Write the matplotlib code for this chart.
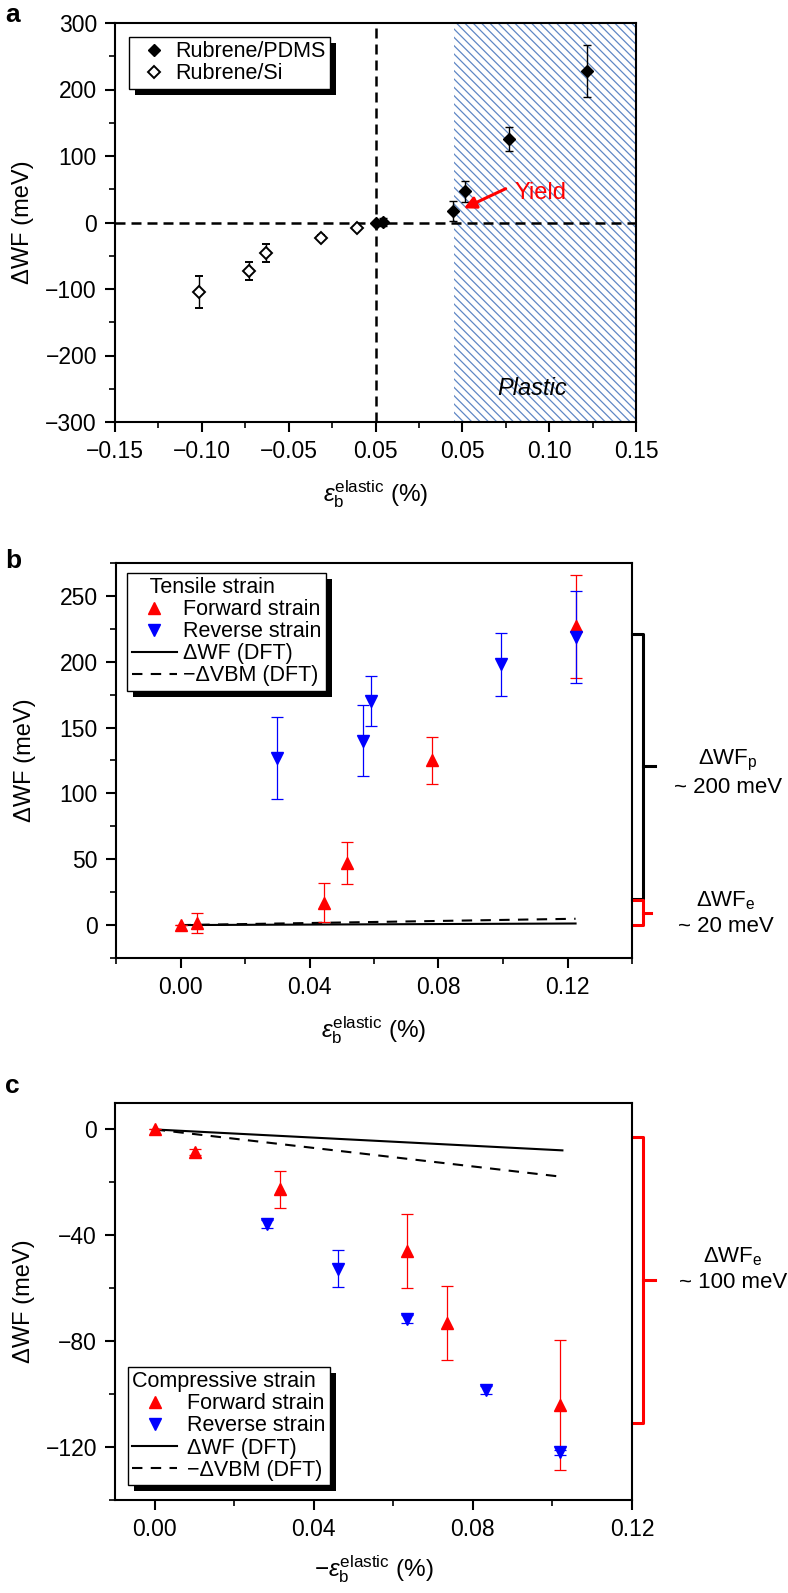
import matplotlib
matplotlib.use('Agg')
import matplotlib.pyplot as plt
from matplotlib.lines import Line2D
from matplotlib.patches import Rectangle
from matplotlib.ticker import MultipleLocator, FixedLocator

plt.rcParams['font.family'] = ['Liberation Sans', 'DejaVu Sans']
plt.rcParams['mathtext.fontset'] = 'custom'
plt.rcParams['mathtext.rm'] = 'Liberation Sans'
plt.rcParams['mathtext.it'] = 'Liberation Sans:italic'
plt.rcParams['mathtext.bf'] = 'Liberation Sans:bold'
plt.rcParams['hatch.linewidth'] = 0.9
plt.rcParams['axes.linewidth'] = 1.5

# --- panel a: rubrene on Si (compressive) and on PDMS (tensile)
si_x = [-0.1017, -0.073, -0.0632, -0.0316, -0.0105]
si_y = [-104, -73, -45.6, -22.6, -8]
si_err = [24, 14, 14, 4, 3]
pdms_x = [0.0, 0.0046, 0.0444, 0.0515, 0.077, 0.122]
pdms_y = [0, 1, 17, 47, 125, 228]
pdms_err = [0, 6, 15, 16, 18, 39]
a_xticks = [-0.15, -0.10, -0.05, 0.0, 0.05, 0.10, 0.15]
a_xticklabels = ['\u22120.15', '\u22120.10', '\u22120.05', '0.05', '0.05', '0.10', '0.15']
plastic_start = 0.045

# --- panel b: tensile strain
b_fwd_x = [0.0, 0.005, 0.0444, 0.0515, 0.078, 0.1225]
b_fwd_y = [0, 1.5, 17, 47, 125, 227]
b_fwd_err = [0, 7.5, 15, 16, 18, 39]
b_rev_x = [0.030, 0.0566, 0.059, 0.0993, 0.1225]
b_rev_y = [127, 140, 170, 198, 219]
b_rev_err = [31, 27, 19, 24, 35]
b_dft_x = [0.0, 0.1225]
b_dft_wf = [0.0, 1.2]
b_dft_vbm = [0.0, 4.8]

# --- panel c: compressive strain
c_fwd_x = [0.0, 0.0101, 0.0315, 0.0635, 0.0736, 0.102]
c_fwd_y = [0, -8.5, -22.6, -46, -73, -104]
c_fwd_err = [0, 1, 7, 14, 14, 24.5]
c_rev_x = [0.0281, 0.046, 0.0635, 0.0832, 0.102]
c_rev_y = [-35.8, -52.6, -71.6, -98.6, -122]
c_rev_err = [1.5, 7, 1.5, 1.5, 1]
c_dft_x = [0.0, 0.1025]
c_dft_wf = [0.0, -7.9]
c_dft_vbm = [0.0, -17.9]

RED = '#ff0000'
BLUE = '#0000ff'
W, H = 788, 1593
LEG_FS = 15.5

fig = plt.figure(figsize=(W / 100, H / 100), dpi=100)


def axes_px(l, t, r, b):
    return fig.add_axes([l / W, 1 - b / H, (r - l) / W, (b - t) / H])


def style(ax):
    ax.tick_params(which='both', direction='out', top=False, right=False,
                   labelsize=16.5, pad=6)
    ax.tick_params(which='major', length=7, width=1.5)
    ax.tick_params(which='minor', length=4, width=1.2)
    ax.yaxis.set_label_coords(-0.155, 0.5)


ax_a = axes_px(115, 23, 636, 422)
ax_b = axes_px(116, 563, 632, 958)
ax_c = axes_px(115, 1103, 632, 1500)

# ---------------- panel a
ax_a.axvspan(plastic_start, 0.15, facecolor='white', edgecolor='#5f87c5',
             hatch='\\\\\\\\', lw=0, zorder=0)
ax_a.axhline(0, color='k', lw=1.8, ls=(0, (4, 2.4)), zorder=1)
ax_a.axvline(0, color='k', lw=1.8, ls=(0, (4, 2.4)), zorder=1)
ax_a.errorbar(si_x, si_y, yerr=si_err, fmt='D', ms=6.5, mfc='white', mec='k',
              mew=1.4, ecolor='k', elinewidth=1, capsize=3, capthick=1, zorder=3)
ax_a.errorbar(pdms_x, pdms_y, yerr=pdms_err, fmt='D', ms=6.5, mfc='k', mec='k',
              ecolor='k', elinewidth=1, capsize=3, capthick=1, zorder=3)
ax_a.set_xlim(-0.15, 0.15)
ax_a.set_ylim(-300, 300)
ax_a.xaxis.set_major_locator(FixedLocator(a_xticks))
ax_a.set_xticklabels(a_xticklabels)
ax_a.xaxis.set_minor_locator(MultipleLocator(0.025))
ax_a.yaxis.set_major_locator(MultipleLocator(100))
ax_a.yaxis.set_minor_locator(MultipleLocator(50))
ax_a.set_ylabel('\u0394WF (meV)', fontsize=17)
ax_a.set_xlabel(r'$ε_{\rm b}^{\rm elastic}$ (%)', fontsize=17.5, labelpad=11)
style(ax_a)
ax_a.text(0.0799, 45, 'Yield', color=RED, fontsize=17, ha='left', va='center')
ax_a.annotate('', xy=(0.0494, 19.5), xytext=(0.0764, 52.6),
              arrowprops=dict(arrowstyle='-|>', color=RED, lw=2.2, mutation_scale=18))
ax_a.text(0.09, -250, 'Plastic', fontsize=17, style='italic', ha='center', va='center')
h_a = [Line2D([], [], ls='none', marker='D', ms=6.5, mfc='k', mec='k'),
       Line2D([], [], ls='none', marker='D', ms=6.5, mfc='white', mec='k', mew=1.4)]
leg_a = ax_a.legend(h_a, ['Rubrene/PDMS', 'Rubrene/Si'], loc='upper left',
                    bbox_to_anchor=(0.027, 0.965), borderaxespad=0, fontsize=LEG_FS,
                    handlelength=1.9, handletextpad=0.05, labelspacing=0.05,
                    borderpad=0.2, fancybox=False, framealpha=1, edgecolor='k')

# ---------------- panel b
ax_b.plot(b_dft_x, b_dft_wf, color='k', lw=1.5, zorder=2)
ax_b.plot(b_dft_x, b_dft_vbm, color='k', lw=1.5, ls=(0, (5, 4)), zorder=2)
ax_b.errorbar(b_fwd_x, b_fwd_y, yerr=b_fwd_err, fmt='^', ms=8, color=RED,
              ecolor=RED, elinewidth=0.9, capsize=4, capthick=0.9, zorder=3)
ax_b.errorbar(b_rev_x, b_rev_y, yerr=b_rev_err, fmt='v', ms=8, color=BLUE,
              ecolor=BLUE, elinewidth=0.9, capsize=4, capthick=0.9, zorder=3)
ax_b.set_xlim(-0.02, 0.14)
ax_b.set_ylim(-25, 275)
ax_b.xaxis.set_major_locator(MultipleLocator(0.04))
ax_b.xaxis.set_minor_locator(MultipleLocator(0.02))
ax_b.xaxis.set_major_formatter('{x:.2f}')
ax_b.yaxis.set_major_locator(MultipleLocator(50))
ax_b.yaxis.set_minor_locator(MultipleLocator(25))
ax_b.set_ylabel('\u0394WF (meV)', fontsize=17)
ax_b.set_xlabel(r'$ε_{\rm b}^{\rm elastic}$ (%)', fontsize=17.5, labelpad=11)
style(ax_b)

# ---------------- panel c
ax_c.plot(c_dft_x, c_dft_wf, color='k', lw=1.5, zorder=2)
ax_c.plot(c_dft_x, c_dft_vbm, color='k', lw=1.5, ls=(0, (5, 4)), zorder=2)
ax_c.errorbar(c_fwd_x, c_fwd_y, yerr=c_fwd_err, fmt='^', ms=8, color=RED,
              ecolor=RED, elinewidth=0.9, capsize=4, capthick=0.9, zorder=3)
ax_c.errorbar(c_rev_x, c_rev_y, yerr=c_rev_err, fmt='v', ms=8, color=BLUE,
              ecolor=BLUE, elinewidth=0.9, capsize=4, capthick=0.9, zorder=3)
ax_c.set_xlim(-0.01, 0.12)
ax_c.set_ylim(-140, 10)
ax_c.xaxis.set_major_locator(MultipleLocator(0.04))
ax_c.xaxis.set_minor_locator(MultipleLocator(0.02))
ax_c.xaxis.set_major_formatter('{x:.2f}')
ax_c.yaxis.set_major_locator(MultipleLocator(40))
ax_c.yaxis.set_minor_locator(MultipleLocator(20))
ax_c.set_ylabel('\u0394WF (meV)', fontsize=17)
ax_c.set_xlabel(r'$-ε_{\rm b}^{\rm elastic}$ (%)', fontsize=17.5, labelpad=9)
style(ax_c)


def strain_legend(ax, title, loc, anchor, pad):
    hs = [Line2D([], [], ls='none', marker='^', ms=8, color=RED),
          Line2D([], [], ls='none', marker='v', ms=8, color=BLUE),
          Line2D([], [], color='k', lw=1.5),
          Line2D([], [], color='k', lw=1.5, ls=(0, (5, 4)))]
    labels = ['Forward strain', 'Reverse strain', '\u0394WF (DFT)', '\u2212\u0394VBM (DFT)']
    return ax.legend(hs, labels, title=title, title_fontsize=LEG_FS, alignment='left',
                     loc=loc, bbox_to_anchor=anchor, borderaxespad=0, fontsize=LEG_FS,
                     handlelength=2.1, handletextpad=pad, labelspacing=0.05,
                     borderpad=0.2, fancybox=False, framealpha=1, edgecolor='k')


leg_b = strain_legend(ax_b, '   Tensile strain', 'upper left', (0.022, 0.975), 0.3)
leg_c = strain_legend(ax_c, 'Compressive strain', 'lower left', (0.025, 0.038), 0.45)

# brackets at right of b and c
def bracket(ax, y0, y1, color, xr=1.021, xn=1.044):
    tr = ax.get_yaxis_transform()
    ax.plot([1.0, xr, xr, 1.0], [y1, y1, y0, y0], color=color, lw=2.2,
            transform=tr, clip_on=False, solid_joinstyle='round')
    ym = (y0 + y1) / 2
    ax.plot([xr, xn], [ym, ym], color=color, lw=2.2, transform=tr, clip_on=False)


bracket(ax_b, 20, 221, 'k')
bracket(ax_b, 0, 19, RED, xn=1.037)
bracket(ax_c, -111, -3, RED)

BFS = 16
fig.text(728 / W, 1 - 760 / H, '\u0394WF$_{\\rm p}$', fontsize=BFS, ha='center', va='center')
fig.text(728 / W, 1 - 787 / H, '~ 200 meV', fontsize=BFS, ha='center', va='center')
fig.text(726 / W, 1 - 901 / H, '\u0394WF$_{\\rm e}$', fontsize=BFS, ha='center', va='center')
fig.text(726 / W, 1 - 927 / H, '~ 20 meV', fontsize=BFS, ha='center', va='center')
fig.text(733 / W, 1 - 1257 / H, '\u0394WF$_{\\rm e}$', fontsize=BFS, ha='center', va='center')
fig.text(733 / W, 1 - 1282 / H, '~ 100 meV', fontsize=BFS, ha='center', va='center')

fig.text(5 / W, 1 - 22 / H, 'a', fontsize=19, fontweight='bold', va='baseline')
fig.text(5 / W, 1 - 568 / H, 'b', fontsize=19, fontweight='bold', va='baseline')
fig.text(5 / W, 1 - 1093 / H, 'c', fontsize=19, fontweight='bold', va='baseline')

# black drop shadows behind the legends
fig.canvas.draw()
for ax, leg in [(ax_a, leg_a), (ax_b, leg_b), (ax_c, leg_c)]:
    bb = leg.get_window_extent()
    ax.add_patch(Rectangle(((bb.x0 + 6) / W, (bb.y0 - 6) / H), bb.width / W, bb.height / H,
                           transform=fig.transFigure, facecolor='k', edgecolor='none',
                           zorder=4.9, clip_on=False))

fig.savefig('out.png', dpi=100)
